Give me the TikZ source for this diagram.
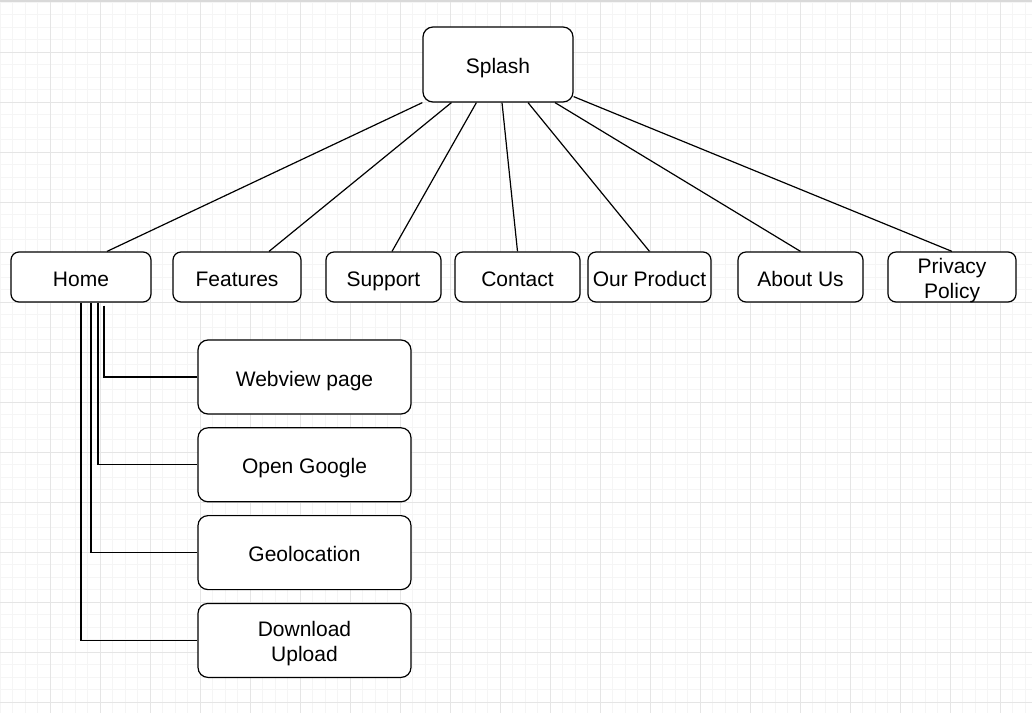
\documentclass[tikz,border=0pt]{standalone}
\usepackage{fontspec}
\setmainfont{Liberation Sans}
\usetikzlibrary{positioning}
\newcommand{\stackedlabel}[2]{\raisebox{-4.6pt}[0pt][0pt]{\begin{tabular}{@{}c@{}}#1\\#2\end{tabular}}}

\begin{document}
\begin{tikzpicture}[x=0.5pt, y=-0.5pt, font=\fontsize{10.5}{12.5}\selectfont,
  box/.style={draw, rounded corners=4pt, fill=white, line width=0.6pt, align=center, inner sep=1pt},
  oneline/.style={text height=9.5pt, text depth=0.5pt},
  pg/.style={box, minimum height=25pt},
  sub/.style={box, rounded corners=5pt, minimum width=106.5pt, minimum height=37pt},
  link/.style={line width=0.6pt},
  minorline/.style={black!4, line width=0.5pt},
  majorline/.style={black!10, line width=0.5pt}]
  \useasboundingbox (0,0) rectangle (1032,713);
  % background grid
  \foreach \gx in {0,12.5,...,1032} \draw[minorline] (\gx,2) -- (\gx,713);
  \foreach \gy in {2,14.5,...,713} \draw[minorline] (0,\gy) -- (1032,\gy);
  \foreach \gx in {50,100,...,1000} \draw[majorline] (\gx,2) -- (\gx,713);
  \foreach \gy in {52,102,...,702} \draw[majorline] (0,\gy) -- (1032,\gy);
  \fill[black!15] (0,0) rectangle (1032,2);

  \node[box, oneline, rounded corners=5pt, minimum width=75pt, minimum height=37.5pt] (splash) at (498,64.5) {Splash};

  \node[pg, oneline, minimum width=70pt]   (home)     at (81,277)    {Home};
  \node[pg, oneline, minimum width=64pt]   (features) at (237,277)   {Features};
  \node[pg, oneline, minimum width=57.5pt] (support)  at (383.5,277) {Support};
  \node[pg, oneline, minimum width=62.5pt] (contact)  at (517.5,277) {Contact};
  \node[pg, oneline, minimum width=61.5pt] (product)  at (649.5,277) {Our Product};
  \node[pg, oneline, minimum width=62.5pt] (about)    at (800.5,277) {About Us};
  \node[pg, minimum width=64pt]   (privacy)  at (952,277)   {\stackedlabel{Privacy}{Policy}};

  \node[sub, oneline] (webview) at (304.5,377) {Webview page};
  \node[sub, oneline, below=6.3pt of webview] (google) {Open Google};
  \node[sub, oneline, below=6.3pt of google] (geo) {Geolocation};
  \node[sub, below=6.3pt of geo] (updown) {\stackedlabel{Download}{Upload}};

  \draw[link] (splash.south west) -- ([xshift=13pt]home.north);
  \draw[link] ([xshift=14.5pt]splash.south west) -- ([xshift=16pt]features.north);
  \draw[link] ([xshift=27pt]splash.south west) -- ([xshift=4.25pt]support.north);
  \draw[link] ([xshift=2pt]splash.south) -- (contact.north);
  \draw[link] ([xshift=15pt]splash.south) -- (product.north);
  \draw[link] ([xshift=28.5pt]splash.south) -- (about.north);
  \draw[link] ([yshift=3pt]splash.south east) -- (privacy.north);

  \draw[link] ([xshift=11.5pt,yshift=-1.5pt]home.south) |- (webview.west);
  \draw[link] ([xshift=8.5pt]home.south) |- (google.west);
  \draw[link] ([xshift=5pt]home.south) |- (geo.west);
  \draw[link] (home.south) |- (updown.west);
\end{tikzpicture}
\end{document}
